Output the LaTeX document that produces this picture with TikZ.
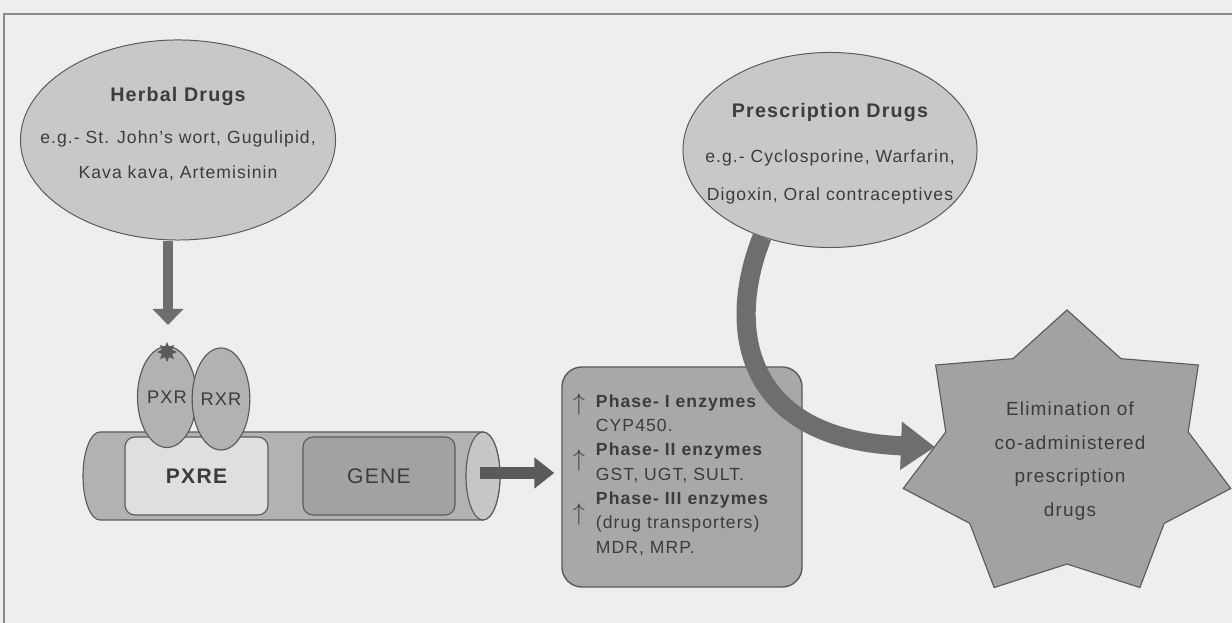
\documentclass[tikz,border=0pt]{standalone}
\usepackage{fontspec}
\setmainfont{Liberation Sans}[LetterSpace=6]
\usetikzlibrary{shapes.geometric,arrows.meta}
\definecolor{paper}{HTML}{EEEEEE}
\definecolor{rim}{HTML}{8A8A8A}
\definecolor{ink}{HTML}{3C3C3C}
\definecolor{edge}{HTML}{5A5A5A}
\definecolor{ovalfill}{HTML}{C8C8C8}
\definecolor{dnafill}{HTML}{B2B2B2}
\definecolor{capfill}{HTML}{C6C6C6}
\definecolor{pxrefill}{HTML}{DFDFDF}
\definecolor{genefill}{HTML}{A2A2A2}
\definecolor{boxfill}{HTML}{A8A8A8}
\definecolor{arrowfill}{HTML}{6E6E6E}

\begin{document}
\begin{tikzpicture}[x=0.025cm,y=0.025cm,
  drugoval/.style={ellipse,draw=edge,line width=0.7pt,fill=ovalfill,inner sep=0pt},
  drugtext/.style={align=center,text=ink,font=\fontsize{12.5}{25}\selectfont},
  receptor/.style={ellipse,draw=edge,line width=0.8pt,fill=dnafill,inner sep=0pt,
    text=ink,font=\fontsize{13}{15}\selectfont},
  dnabox/.style={rectangle,rounded corners=0.25cm,draw=edge,line width=0.8pt,
    minimum height=1.95cm,inner sep=0pt,text=ink,font=\fontsize{15}{18}\selectfont},
  fatarrow/.style={draw=arrowfill,line width=#1},
  uptick/.style={text=ink,inner sep=0pt,font=\fontsize{18}{18}\selectfont},
  elimtext/.style={align=center,text=ink,font=\fontsize{13.5}{24}\selectfont}]
\useasboundingbox (0,0) rectangle (1232,623);
\fill[paper] (0,0) rectangle (1232,623);
\draw[rim,line width=2pt] (4,0) -- (4,609) -- (1232,609);

% drugs
\node[drugoval,minimum width=7.875cm,minimum height=5cm] (herbal) at (178,483) {};
\node[drugtext] (herbaltxt) at (178,489)
  {{\bfseries\fontsize{14}{25}\selectfont Herbal Drugs}\\[5pt]
   e.g.- St. John's wort, Gugulipid,\\Kava kava, Artemisinin};
\node[drugoval,minimum width=7.35cm,minimum height=4.875cm] (pres) at (830,473) {};
\node[drugtext,font=\fontsize{12.5}{27}\selectfont] (prestxt) at (830,469)
  {{\bfseries\fontsize{14}{27}\selectfont Prescription Drugs}\\[5pt]
   e.g.- Cyclosporine, Warfarin,\\Digoxin, Oral contraceptives};

% DNA
\draw[edge,fill=dnafill,line width=0.8pt] (100,191) -- (483,191)
  arc[start angle=90,end angle=-90,x radius=17,y radius=44] -- (100,103)
  arc[start angle=270,end angle=90,x radius=17,y radius=44] -- cycle;
\draw[edge,fill=capfill,line width=0.8pt] (483,147) ellipse[x radius=17,y radius=44];
\node[dnabox,fill=pxrefill,minimum width=3.575cm,font=\bfseries\fontsize{15}{18}\selectfont] (pxre) at (196.5,147) {PXRE};
\node[dnabox,fill=genefill,minimum width=3.8cm] (gene) at (379,147) {GENE};
\node[receptor,minimum width=1.475cm,minimum height=2.525cm] (pxr) at (167,226) {PXR};
\node[receptor,minimum width=1.325cm,minimum height=2.55cm] (rxr) at (221,224) {RXR};
\node[star,star points=8,star point ratio=1.8,fill=edge,inner sep=0pt,minimum size=0.5cm] (ligand) at (167,271) {};

\coordinate (pxrtop) at (168,298);
\draw[fatarrow=0.25cm,-{Triangle[width=0.75cm,length=0.4cm]}] (herbal.south -| pxrtop) -- (pxrtop);

% enzymes
\node[rectangle,rounded corners=0.5cm,draw=edge,line width=1pt,fill=boxfill,
  minimum width=6cm,minimum height=5.5cm] (enz) at (682,146) {};
\node[anchor=west,align=left,text=ink,font=\fontsize{12.5}{17.3}\selectfont] (enztxt) at (591,148)
  {\textbf{Phase- I enzymes}\\CYP450.\\\textbf{Phase- II enzymes}\\GST, UGT, SULT.\\
   \textbf{Phase- III enzymes}\\(drug transporters)\\MDR, MRP.};
\node[uptick] (up1) at (579,219) {$\uparrow$};
\node[uptick] (up2) at (579,163) {$\uparrow$};
\node[uptick] (up3) at (579,109) {$\uparrow$};

\coordinate (dnaout) at (480,150);
\draw[fatarrow=0.3cm,draw=edge,-{Triangle[width=0.75cm,length=0.5cm]},shorten >=0.175cm] (dnaout) -- (dnaout -| enz.west);

% elimination
\fill[draw=edge,fill=genefill,line width=0.8pt] (1067,313)
  \foreach \i [evaluate=\i as \r using {mod(\i,2)==0 ? 1 : 0.74}] in {1,...,13}
  { -- ({1067+168*\r*cos(90+\i*360/14)},{167+146*\r*sin(90+\i*360/14)}) } -- cycle;
\node[elimtext] (elim) at (1070,162) {Elimination of\\co-administered\\prescription\\drugs};

\coordinate (elimtip) at (935,176);
\draw[fatarrow=0.48cm,-{Triangle[width=1.15cm,length=0.85cm]}] (pres.232)
  .. controls (725,293) and (745,183) .. (elimtip);
\end{tikzpicture}
\end{document}
